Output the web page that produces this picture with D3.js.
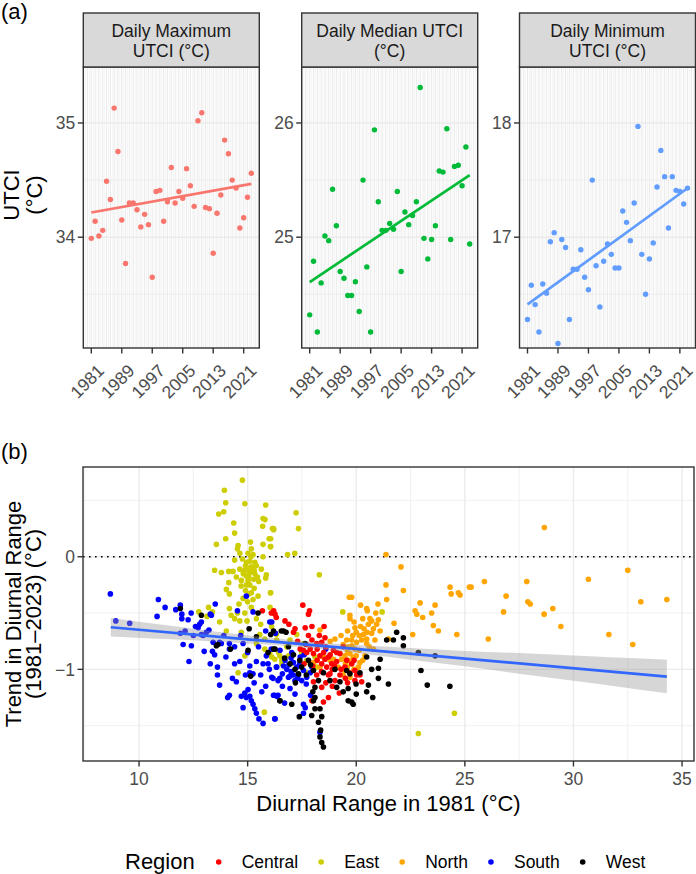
<!DOCTYPE html>
<html><head><meta charset="utf-8">
<script src="https://cdn.jsdelivr.net/npm/d3@7"></script>
<style>
body{margin:0;background:#fff}
svg{display:block}
text{font-family:"Liberation Sans",Arial,Helvetica,sans-serif}
</style>
</head><body>
<svg id="c" width="696" height="874"></svg>
<script>
// ---------------- DATA ----------------
const years = [1981,1982,1983,1984,1985,1986,1987,1988,1989,1990,1991,1992,1993,1994,1995,1996,1997,1998,1999,2000,
  2001,2002,2003,2004,2005,2006,2007,2008,2009,2010,2011,2012,2013,2014,2015,2016,2017,2018,2019,2020,2021,2022,2023];
const yearTicks = [1981,1989,1997,2005,2013,2021];
const panelTitles = [["Daily Maximum","UTCI (°C)"],["Daily Median UTCI","(°C)"],["Daily Minimum","UTCI (°C)"]];
const panelColors = ["#F8766D","#00BA38","#619CFF"];
const maxUTCI = [33.99,34.14,34.01,34.06,34.49,34.33,35.13,34.75,34.15,33.77,34.30,34.30,34.24,34.09,34.20,34.11,33.65,34.40,34.41,34.14,
  34.31,34.61,34.30,34.40,34.34,34.60,34.45,34.27,35.02,35.09,34.26,34.25,33.86,34.21,34.37,34.85,34.73,34.50,34.43,34.08,34.17,34.35,34.56];
const medianUTCI = [24.32,24.79,24.17,24.60,25.01,24.97,25.42,25.10,24.70,24.64,24.49,24.49,24.61,24.35,25.50,24.74,24.17,25.94,25.31,25.06,
  25.06,25.12,25.07,25.40,24.70,25.22,25.11,25.19,25.31,26.31,24.99,24.81,24.98,25.10,25.58,25.57,25.95,24.98,25.62,25.63,25.45,25.79,24.94];
const minUTCI = [16.28,16.58,16.41,16.17,16.59,16.51,16.96,17.04,16.07,16.98,16.91,16.28,16.72,16.72,16.89,16.65,16.54,17.50,16.75,16.39,
  16.79,16.94,16.85,16.73,16.73,17.23,17.13,16.97,17.30,17.97,16.85,16.50,16.81,16.95,17.44,17.76,17.53,17.08,17.53,17.41,17.40,17.29,17.43];
const panelYTicks = [[34,35],[25,26],[17,18]];
const panelYRanges = [[33.03,35.49],[24.03,26.49],[16.03,18.49]];

const regionNames = ["Central","East","North","South","West"];
const regionColors = ["#FF0000","#CDCD00","#FFA500","#0000FF","#000000"];
const bXTicks = [10,15,20,25,30,35];
const bYTicks = [-1,0];

// [diurnal range in 1981, trend 1981-2023]
const central = [[15.68,-0.48],[16.09,-0.50],[16.20,-0.48],[16.32,-0.54],[17.54,-0.43],[17.85,-0.48],[17.80,-0.51],[16.72,-0.57],[17.18,-0.64],[17.11,-0.67],
 [17.65,-0.63],[17.96,-0.62],[18.52,-0.62],[18.56,-0.72],[18.41,-0.76],[17.96,-0.74],[17.57,-0.83],[17.88,-0.82],[18.03,-0.86],[18.18,-0.77],
 [18.33,-0.88],[18.41,-0.95],[18.56,-0.91],[18.72,-0.89],[18.64,-0.98],[18.87,-0.95],[18.95,-0.83],[19.10,-0.85],[19.25,-0.86],[18.79,-1.04],
 [18.72,-1.05],[19.02,-1.10],[19.25,-1.05],[19.48,-0.98],[19.56,-0.92],[19.79,-0.95],[19.94,-1.01],[19.94,-1.10],[20.25,-1.11],[20.17,-1.05],
 [20.02,-1.05],[18.18,-1.05],[18.03,-1.11],[18.41,-1.16],[17.96,-1.28],[18.72,-1.25],[19.22,-1.21],[18.49,-1.29],[17.72,-0.85],[17.42,-0.82],
 [16.26,-0.51],[18.20,-0.92],[18.90,-1.00],[19.40,-0.80],[18.60,-0.80],[17.80,-0.70],[19.10,-0.93],[19.60,-1.12],[18.30,-0.70],[17.30,-0.75],
 [18.90,-1.15],[16.90,-0.60],[17.60,-0.95],[18.50,-0.85],[18.80,-0.87],[19.00,-0.97],[19.30,-1.00],[19.70,-1.03],[18.40,-1.02],[18.00,-0.97],
 [19.50,-1.08],[18.60,-1.12],[19.90,-0.92],[17.70,-0.78],[18.20,-0.82]];
const east = [[14.76,0.68],[13.93,0.59],[13.99,0.48],[14.87,0.47],[15.83,0.46],[13.67,0.38],[13.90,0.40],[15.71,0.34],[15.80,0.33],[14.36,0.30],
 [15.69,0.27],[16.14,0.25],[16.20,0.24],[14.40,0.21],[13.99,0.16],[15.13,0.13],[15.99,0.16],[13.56,0.11],[14.56,0.10],[15.71,0.11],
 [16.05,0.09],[14.53,0.07],[15.17,0.07],[14.64,0.03],[15.02,0.03],[15.25,0.02],[15.71,0.00],[14.40,-0.03],[14.76,-0.02],[15.10,-0.04],
 [15.33,-0.05],[14.90,-0.08],[15.17,-0.09],[14.64,-0.11],[15.63,-0.11],[13.48,-0.12],[13.79,-0.14],[14.13,-0.13],[14.33,-0.13],[14.87,-0.12],
 [15.10,-0.14],[15.33,-0.15],[14.48,-0.18],[14.94,-0.17],[15.86,-0.16],[15.83,-0.19],[14.71,-0.21],[15.02,-0.21],[15.51,-0.22],[14.13,-0.23],
 [14.94,-0.25],[14.02,-0.29],[15.17,-0.32],[14.16,-0.33],[16.05,-0.32],[15.48,-0.35],[15.04,-0.33],[14.79,-0.37],[15.25,-0.38],[13.20,-0.45],
 [13.38,-0.49],[14.16,-0.46],[14.53,-0.50],[14.87,-0.50],[15.17,-0.45],[12.75,-0.49],[13.13,-0.53],[14.24,-0.52],[14.40,-0.55],[14.64,-0.57],
 [14.97,-0.57],[13.71,-0.58],[14.02,-0.66],[14.71,-0.67],[15.40,-0.55],[15.56,-0.69],[15.79,-0.73],[16.32,-0.69],[15.40,-0.77],[15.79,-0.82],
 [16.02,-0.86],[16.25,-0.91],[16.48,-0.88],[14.87,-0.88],[14.56,-1.03],[15.77,-1.38],[16.58,-0.95],[15.00,-0.10],[15.20,-0.12],[15.05,-0.18],
 [15.28,-0.20],[14.95,-0.05],[15.15,0.00],[15.40,-0.08],[14.80,-0.15],[15.10,-0.25],[15.30,-0.28],[17.23,0.39],[17.34,0.25],[16.19,0.25],
 [16.06,0.16],[16.06,0.09],[16.84,0.02],[17.17,0.03],[18.30,-0.16],[16.06,-0.32],[19.38,-0.49],[21.19,-0.49],[24.52,-1.39],[22.86,-1.57],
 [16.03,-0.45],[16.19,-0.82],[16.34,-0.74],[16.42,-0.85],[16.11,-0.89],[16.57,-0.92],[16.88,-0.88],[16.95,-0.74],[17.26,-0.69],[17.49,-0.85],
 [17.57,-0.77],[17.72,-0.92],[17.88,-0.95],[18.10,-0.89],[18.18,-0.98],[17.72,-1.03],[14.90,-0.30],[15.30,-0.12],[14.70,-0.26],[15.45,-0.18],
 [15.00,-0.40],[14.60,-0.42],[15.60,-0.60],[16.10,-0.62],[16.80,-0.80],[17.00,-0.95]];
const north = [[21.37,0.02],[22.06,-0.09],[21.37,-0.25],[22.17,-0.30],[21.40,-0.38],[19.68,-0.36],[19.79,-0.36],[20.20,-0.43],[20.48,-0.46],[20.51,-0.48],
 [19.71,-0.52],[19.71,-0.55],[20.63,-0.55],[20.71,-0.57],[21.02,-0.56],[20.94,-0.60],[20.56,-0.60],[20.36,-0.64],[20.79,-0.64],[19.94,-0.63],
 [19.84,-0.70],[20.14,-0.70],[20.33,-0.69],[20.71,-0.68],[21.74,-0.59],[22.60,-0.69],[22.71,-0.48],[22.79,-0.51],[22.94,-0.41],[23.06,-0.54],
 [23.47,-0.50],[23.63,-0.43],[23.55,-0.61],[23.78,-0.66],[24.32,-0.27],[24.37,-0.33],[24.70,-0.32],[24.78,-0.34],[24.63,-0.69],[25.21,-0.27],
 [19.02,-0.73],[19.56,-0.74],[19.79,-0.74],[20.02,-0.76],[20.25,-0.74],[20.48,-0.77],[19.64,-0.80],[19.94,-0.82],[20.14,-0.83],[19.71,-0.86],
 [19.86,-0.89],[19.64,-0.92],[19.79,-0.95],[19.59,-0.98],[19.48,-1.01],[19.40,-1.05],[19.71,-1.07],[20.10,-0.98],[20.17,-0.94],[20.48,-0.73],
 [20.86,-0.74],[18.33,-0.65],[18.49,-0.89],[18.79,-0.92],[18.95,-0.91],[18.33,-0.98],[18.03,-0.94],[19.17,-0.98],[19.33,-0.91],[19.48,-0.88],
 [20.79,-0.82],[21.48,-0.73],[19.90,-0.58],[20.30,-0.55],[20.00,-0.67],[19.60,-0.66],[20.60,-0.80],[20.40,-0.88],[19.90,-1.00],[20.90,-0.50],
 [21.10,-0.66],[19.30,-0.70],[18.80,-0.75],[21.00,-0.42],[19.80,-0.79],[20.00,-0.88],[19.50,-0.95],[20.30,-0.92],[19.60,-0.84],[20.20,-0.62],
 [20.50,-0.67],[19.40,-0.78],
 [28.66,0.26],[32.50,-0.12],[30.69,-0.20],[27.85,-0.22],[25.90,-0.22],[25.29,-0.27],[26.90,-0.35],[27.90,-0.40],[28.01,-0.42],[26.78,-0.49],
 [28.65,-0.51],[29.05,-0.46],[29.42,-0.62],[26.08,-0.73],[31.63,-0.69],[32.73,-0.78],[33.10,-0.40],[34.30,-0.38]];
const south = [[8.68,-0.33],[8.93,-0.57],[9.57,-0.59],[10.89,-0.38],[10.83,-0.53],[11.69,-0.47],[11.90,-0.43],[11.97,-0.51],[11.97,-0.55],[12.26,-0.56],
 [12.12,-0.66],[12.03,-0.78],[12.41,-0.79],[12.30,-0.93],[11.90,-0.68],[12.79,-0.60],[12.87,-0.58],[12.72,-0.63],[13.28,-0.51],[13.51,-0.42],
 [13.33,-0.52],[13.22,-0.65],[13.10,-0.67],[12.95,-0.70],[13.41,-0.76],[13.38,-0.84],[13.48,-0.87],[13.28,-0.95],[13.61,-0.98],[13.61,-1.05],
 [13.71,-1.14],[14.16,-1.23],[14.08,-1.25],[14.30,-1.08],[14.48,-1.11],[14.64,-0.93],[14.53,-0.48],[14.79,-0.77],[14.68,-0.70],[15.10,-0.97],
 [15.10,-1.03],[15.25,-1.04],[15.02,-1.18],[14.87,-1.21],[14.71,-1.24],[14.94,-1.25],[15.10,-1.24],[15.17,-1.28],[15.25,-1.31],[14.79,-1.34],
 [15.33,-1.35],[15.40,-1.39],[15.52,-1.44],[15.71,-1.48],[16.25,-1.44],[15.65,-1.20],[15.83,-1.15],[16.17,-1.08],[16.40,-1.23],[16.25,-1.23],
 [15.40,-0.93],[15.71,-0.95],[15.94,-0.95],[16.32,-0.98],[16.48,-1.08],[15.83,-0.66],[16.02,-0.58],[16.28,-0.68],[15.25,-0.49],[13.71,-0.76],
 [13.79,-0.77],[14.16,-0.82],[14.40,-0.80],[14.16,-0.77],[12.87,-0.69],[14.94,-0.35],[16.09,-0.82],[15.86,-0.88],
 [16.11,-0.58],[16.11,-1.07],[16.19,-1.23],[16.34,-1.24],[16.26,-1.44],[16.49,-0.83],[16.34,-0.98],[16.65,-0.97],[16.80,-1.00],[16.72,-0.92],
 [16.88,-1.07],[16.95,-1.17],[17.03,-0.85],[17.11,-0.94],[17.18,-1.10],[17.18,-1.22],[17.26,-0.98],[17.34,-1.05],[17.42,-0.89],[17.49,-1.10],
 [17.57,-1.01],[17.57,-1.31],[17.65,-1.34],[17.72,-1.07],[17.57,-1.39],[17.88,-1.03],[18.33,-1.56],[17.96,-0.98],[16.95,-1.06],
 [17.00,-1.02],[17.30,-1.08],[16.60,-1.04],[17.70,-1.13],[17.40,-0.95],[16.90,-0.96],[16.40,-1.10],[17.10,-1.05],[12.60,-0.62],[11.20,-0.45],
 [12.50,-0.70],[13.00,-0.84],[14.40,-0.95],[14.00,-0.89],[15.50,-0.80],[15.00,-0.85],[17.60,-0.87],[18.60,-0.82],[17.90,-1.23],[16.70,-1.30],
 [16.00,-1.00],[16.60,-1.15],[15.30,-1.12],[14.90,-1.05],[15.60,-1.05],[17.00,-0.90],[13.90,-0.70],[12.40,-0.50]];
const west = [[11.90,-0.46],[12.87,-0.52],[13.56,-0.79],[14.21,-0.82],[15.07,-0.64],[15.48,-0.50],[15.40,-0.71],[15.94,-0.85],[16.20,-0.82],[16.06,-0.69],
 [16.55,-0.66],[15.02,-0.83],[15.14,-1.06],[16.48,-1.28],
 [16.19,-0.66],[16.26,-0.82],[16.65,-0.66],[16.77,-0.67],[16.88,-0.80],[16.95,-0.95],[17.11,-0.87],[17.18,-1.00],[17.34,-1.04],[17.49,-0.98],
 [17.65,-0.77],[17.80,-0.92],[18.03,-1.01],[18.10,-1.16],[18.26,-1.10],[18.03,-1.28],[18.10,-1.25],[18.33,-1.35],[18.10,-1.35],[17.95,-1.41],
 [18.41,-1.42],[18.26,-1.47],[18.36,-1.54],[18.33,-1.60],[18.41,-1.65],[18.49,-1.69],[17.38,-1.42],[17.03,-1.31],[16.49,-1.28],[18.49,-1.03],
 [19.02,-1.00],[19.10,-1.16],[19.25,-1.11],[19.56,-1.01],[19.71,-1.04],[19.63,-1.17],[19.63,-1.28],[19.86,-1.31],[19.79,-1.29],[19.99,-1.13],
 [20.17,-1.03],[20.48,-0.89],[20.56,-1.14],[20.48,-1.20],[20.76,-1.25],[20.71,-1.00],[21.02,-0.99],[21.02,-1.08],[21.10,-0.91],[21.48,-1.13],
 [21.40,-0.74],[21.71,-0.74],[21.86,-0.67],[22.17,-0.72],[22.17,-0.79],[22.86,-0.85],[22.98,-1.01],[23.63,-0.88],[23.27,-1.14],[24.31,-1.15],
 [18.79,-1.10],[13.63,-0.78],[17.40,-0.92],[17.70,-1.05],[17.90,-0.96],[16.70,-0.90],[17.20,-1.12],[18.00,-1.20],[19.40,-1.20],[20.00,-1.22]];
const regionData = [central, east, north, south, west];
const drawOrder = [1, 2, 3, 0, 4];

// linear trend (geom_smooth, lm) and its 95% band
const trendX = [8.7, 34.3];
const trendY = [-0.626, -1.064];
const bandX  = [8.7, 12, 15, 17.5, 20, 22.5, 25, 27.5, 30, 32.5, 34.3];
const bandLo = [-0.708, -0.738, -0.770, -0.804, -0.855, -0.914, -0.973, -1.039, -1.102, -1.166, -1.213];
const bandHi = [-0.544, -0.626, -0.698, -0.748, -0.783, -0.810, -0.837, -0.855, -0.878, -0.900, -0.915];

// ---------------- LAYOUT ----------------
const svg = d3.select("#c");
const INK = "#333333", GRID = "#EBEBEB", TICKTXT = "#4D4D4D";
const topX0 = [83.3, 301.7, 519.5], PW = 176, PT = 67, PB = 348, ST = 13;
const yearDomain = [1978.9, 2025.1];

function line(g, x1, y1, x2, y2, c, w) {
  g.append("line").attr("x1", x1).attr("y1", y1).attr("x2", x2).attr("y2", y2)
    .attr("stroke", c).attr("stroke-width", w);
}

// tags
svg.append("text").attr("x", 1).attr("y", 19).attr("font-size", 22).text("(a)");
svg.append("text").attr("x", 1).attr("y", 459).attr("font-size", 22).text("(b)");

// y title (a)
const yta = svg.append("text").attr("font-size", 22).attr("text-anchor", "middle")
  .attr("transform", "translate(0,195) rotate(-90)");
yta.append("tspan").attr("x", 0).attr("y", 19).text("UTCI");
yta.append("tspan").attr("x", 0).attr("y", 42).text("(°C)");

const series = [maxUTCI, medianUTCI, minUTCI];
series.forEach((vals, i) => {
  const x0 = topX0[i];
  const g = svg.append("g");
  const x = d3.scaleLinear().domain(yearDomain).range([x0, x0 + PW]);
  const y = d3.scaleLinear().domain(panelYRanges[i]).range([PB, PT]);
  for (let v = Math.ceil(yearDomain[0] * 2) / 2; v <= yearDomain[1]; v += 0.5) {
    const major = Number.isInteger(v);
    line(g, x(v), PT, x(v), PB, GRID, major ? 1.1 : 0.55);
  }
  const [t0, t1] = panelYTicks[i];
  [t0 - 0.5, t0 + 0.5, t1 + 0.5].forEach(v => { if (v > panelYRanges[i][0] && v < panelYRanges[i][1]) line(g, x0, y(v), x0 + PW, y(v), GRID, 0.7); });
  panelYTicks[i].forEach(v => line(g, x0, y(v), x0 + PW, y(v), GRID, 1.4));
  g.selectAll("circle.p").data(vals).join("circle")
    .attr("cx", (d, j) => x(years[j])).attr("cy", d => y(d)).attr("r", 2.7).attr("fill", panelColors[i]);
  // linear fit (lm, no band)
  const mx = d3.mean(years), my = d3.mean(vals);
  const sxy = d3.sum(years, (yr, j) => (yr - mx) * (vals[j] - my));
  const sxx = d3.sum(years, yr => (yr - mx) ** 2);
  const b = sxy / sxx, a = my - b * mx;
  const yr0 = years[0], yr1 = years[years.length - 1];
  line(g, x(yr0), y(a + b * yr0), x(yr1), y(a + b * yr1), panelColors[i], 2.7);
  g.append("rect").attr("x", x0).attr("y", PT).attr("width", PW).attr("height", PB - PT)
    .attr("fill", "none").attr("stroke", INK).attr("stroke-width", 1.4);
  g.append("rect").attr("x", x0).attr("y", ST).attr("width", PW).attr("height", PT - ST)
    .attr("fill", "#D9D9D9").attr("stroke", INK).attr("stroke-width", 1.4);
  panelTitles[i].forEach((t, k) => g.append("text").attr("x", x0 + PW / 2).attr("y", 37 + k * 20)
    .attr("text-anchor", "middle").attr("font-size", 17.5).attr("fill", "#1A1A1A").text(t));
  panelYTicks[i].forEach(v => {
    line(g, x0 - 5.5, y(v), x0, y(v), INK, 1.4);
    g.append("text").attr("x", x0 - 8).attr("y", y(v)).attr("dy", "0.36em").attr("text-anchor", "end")
      .attr("font-size", 17.5).attr("fill", TICKTXT).text(v);
  });
  yearTicks.forEach(v => {
    line(g, x(v), PB, x(v), PB + 5.5, INK, 1.4);
    g.append("text").attr("transform", `translate(${x(v) + 5},${PB + 15}) rotate(-45)`)
      .attr("text-anchor", "end").attr("dy", "0.72em").attr("font-size", 17.5).attr("fill", TICKTXT).text(v);
  });
});

// ---------------- PANEL (b) ----------------
const BL = 83, BR = 694, BT = 467, BB = 761;
const xb = d3.scaleLinear().domain([7.42, 35.55]).range([BL, BR]);
const yb = d3.scaleLinear().domain([-1.814, 0.797]).range([BB, BT]);
const gb = svg.append("g");
[7.5, 12.5, 17.5, 22.5, 27.5, 32.5].forEach(v => line(gb, xb(v), BT, xb(v), BB, GRID, 0.7));
[0.5, -0.5, -1.5].forEach(v => line(gb, BL, yb(v), BR, yb(v), GRID, 0.7));
bXTicks.forEach(v => line(gb, xb(v), BT, xb(v), BB, GRID, 1.4));
bYTicks.forEach(v => line(gb, BL, yb(v), BR, yb(v), GRID, 1.4));
gb.append("line").attr("x1", BL).attr("x2", BR).attr("y1", yb(0)).attr("y2", yb(0))
  .attr("stroke", "#000").attr("stroke-width", 1.6).attr("stroke-dasharray", "1.6,4.4");
drawOrder.forEach(k => {
  gb.append("g").selectAll("circle").data(regionData[k]).join("circle")
    .attr("cx", d => xb(d[0])).attr("cy", d => yb(d[1])).attr("r", 2.8).attr("fill", regionColors[k]);
});
const band = bandX.map((xv, i) => ({x: xv, lo: bandLo[i], hi: bandHi[i]}));
gb.append("path").datum(band).attr("fill", "#999999").attr("fill-opacity", 0.4)
  .attr("d", d3.area().curve(d3.curveMonotoneX).x(d => xb(d.x)).y0(d => yb(d.lo)).y1(d => yb(d.hi)));
gb.append("path").datum(trendX.map((xv, i) => [xv, trendY[i]])).attr("fill", "none")
  .attr("stroke", "#3366FF").attr("stroke-width", 2.7)
  .attr("d", d3.line().x(d => xb(d[0])).y(d => yb(d[1])));
gb.append("rect").attr("x", BL).attr("y", BT).attr("width", BR - BL).attr("height", BB - BT)
  .attr("fill", "none").attr("stroke", INK).attr("stroke-width", 1.4);
bXTicks.forEach(v => {
  line(gb, xb(v), BB, xb(v), BB + 5.5, INK, 1.4);
  gb.append("text").attr("x", xb(v)).attr("y", 785).attr("text-anchor", "middle")
    .attr("font-size", 17.5).attr("fill", TICKTXT).text(v);
});
bYTicks.forEach(v => {
  line(gb, BL - 5.5, yb(v), BL, yb(v), INK, 1.4);
  gb.append("text").attr("x", BL - 8).attr("y", yb(v)).attr("dy", "0.36em").attr("text-anchor", "end")
    .attr("font-size", 17.5).attr("fill", TICKTXT).text(v < 0 ? "\u2212" + Math.abs(v) : v);
});
svg.append("text").attr("x", (BL + BR) / 2).attr("y", 811).attr("text-anchor", "middle")
  .attr("font-size", 22).text("Diurnal Range in 1981 (°C)");
const ytb = svg.append("text").attr("font-size", 22).attr("text-anchor", "middle")
  .attr("transform", `translate(0,${(BT + BB) / 2}) rotate(-90)`);
ytb.append("tspan").attr("x", 0).attr("y", 21).text("Trend in Diurnal Range");
ytb.append("tspan").attr("x", 0).attr("y", 41).text("(1981\u20132023) (°C)");

// legend
const lg = svg.append("g");
const title = lg.append("text").attr("x", 125).attr("y", 869).attr("font-size", 22).text("Region");
let cx = 125 + title.node().getComputedTextLength() + 24;
regionNames.forEach((nm, k) => {
  lg.append("circle").attr("cx", cx).attr("cy", 862).attr("r", 2.8).attr("fill", regionColors[k]);
  const t = lg.append("text").attr("x", cx + 23).attr("y", 868).attr("font-size", 17.5).attr("fill", "#000").text(nm);
  cx = cx + 23 + t.node().getComputedTextLength() + 23;
});
</script>
</body></html>
